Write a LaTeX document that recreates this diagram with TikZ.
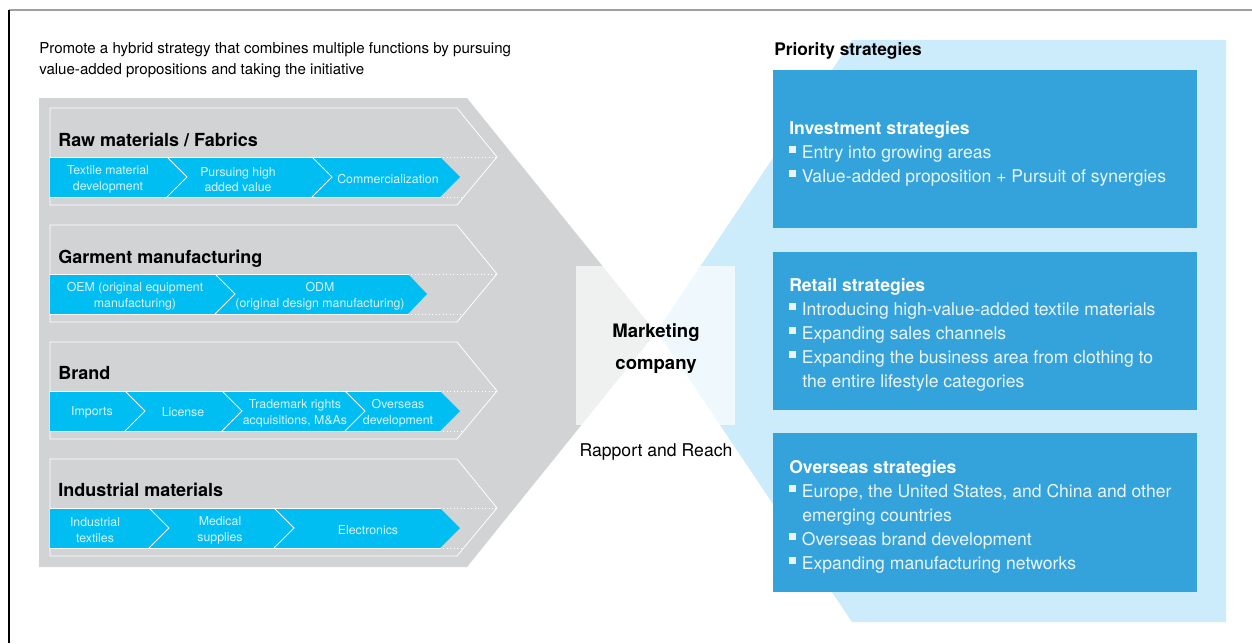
\documentclass[tikz,border=0pt]{standalone}
\usepackage{fontspec}
\setmainfont{TeX Gyre Heros}
\usepackage{tikz}
\usetikzlibrary{positioning}
\definecolor{chevgray}{RGB}{209,211,212}
\definecolor{segcyan}{RGB}{0,190,242}
\definecolor{paleblue}{RGB}{204,235,251}
\definecolor{boxblue}{RGB}{52,163,219}
\definecolor{segtext}{RGB}{214,242,252}
\definecolor{listtext}{RGB}{232,245,252}
\newcommand{\sqb}{\rule[4pt]{5.2pt}{5.2pt}\hspace{4.2pt}}

\begin{document}
\begin{tikzpicture}[x=0.75pt, y=-0.75pt]
\tikzstyle{rowline} = [white, line width=0.6pt]
\tikzstyle{dotline} = [white, line width=0.6pt, dotted]
\tikzstyle{segtxt} = [text=segtext, align=center, inner sep=0, font=\fontsize{9.25}{11.8}\selectfont]
\tikzstyle{rowtitle} = [anchor=base west, inner sep=0, font=\fontsize{13.5}{16}\selectfont\bfseries]
\tikzstyle{stratbox} = [anchor=north west, fill=boxblue, inner sep=0, minimum width=318pt]
\tikzstyle{boxhead} = [anchor=base west, inner sep=0, text=white, font=\fontsize{13.2}{16}\selectfont\bfseries]
\tikzstyle{listline} = [anchor=base west, inner sep=0, text=listtext, font=\fontsize{13.2}{16}\selectfont]

\useasboundingbox (0,0) rectangle (1252,643);
\draw[gray!75, line width=1.2pt] (9,10) -- (1252,10);
\draw[black, line width=0.9pt] (9,10) -- (9,643);

\fill[paleblue] (852,40) -- (1226,40) -- (1226,622) -- (852,622) -- (657,331) -- cycle;
\fill[chevgray] (39,98) -- (467,98) -- (656,332.5) -- (467,567) -- (39,567) -- cycle;

\node[anchor=north west, align=left, inner sep=0, font=\fontsize{11.3}{15.75}\selectfont] (intro) at (39,42)
  {Promote a hybrid strategy that combines multiple functions by pursuing\\value-added propositions and taking the initiative};

% Raw materials / Fabrics
\draw[rowline] (50,108) -- (457,108) -- (497,157) -- (457,205) -- (50,205) -- cycle;
\fill[segcyan] (50,157) -- (440,157) -- (460,177) -- (440,197) -- (50,197) -- cycle;
\draw[rowline] (50,157) -- (440,157);
\draw[rowline] (50,197) -- (440,197);
\draw[dotline] (440,157) -- (497,157);
\draw[dotline] (440,197) -- (463.7,197);
\draw[rowline] (167,157) -- (187,177) -- (167,197);
\draw[rowline] (312,157) -- (332,177) -- (312,197);
\node[rowtitle] (rawtitle) at (58,146) {Raw materials / Fabrics};
\node[segtxt] (textile) at (108,179.5) {Textile material\\development};
\node[segtxt] (highval) at (238,179.5) {Pursuing high\\added value};
\node[segtxt] (commerc) at (388,179) {Commercialization};

% Garment manufacturing
\draw[rowline] (50,225) -- (457,225) -- (497,274) -- (457,322) -- (50,322) -- cycle;
\fill[segcyan] (50,274) -- (408,274) -- (427,294) -- (408,314) -- (50,314) -- cycle;
\draw[rowline] (50,274) -- (408,274);
\draw[rowline] (50,314) -- (408,314);
\draw[dotline] (408,274) -- (497,274);
\draw[dotline] (408,314) -- (463.7,314);
\draw[rowline] (215,274) -- (235,294) -- (215,314);
\node[rowtitle] (garmtitle) at (58,263) {Garment manufacturing};
\node[segtxt] (oem) at (135,296) {OEM (original equipment\\manufacturing)};
\node[segtxt] (odm) at (320,296) {ODM\\(original design manufacturing)};

% Brand
\draw[rowline] (50,342) -- (457,342) -- (497,391) -- (457,439) -- (50,439) -- cycle;
\fill[segcyan] (50,391) -- (440,391) -- (460,411) -- (440,431) -- (50,431) -- cycle;
\draw[rowline] (50,391) -- (440,391);
\draw[rowline] (50,431) -- (440,431);
\draw[dotline] (440,391) -- (497,391);
\draw[dotline] (440,431) -- (463.7,431);
\draw[rowline] (125,391) -- (145,411) -- (125,431);
\draw[rowline] (222,391) -- (242,411) -- (222,431);
\draw[rowline] (345,391) -- (365,411) -- (345,431);
\node[rowtitle] (brandtitle) at (58,379) {Brand};
\node[segtxt] (imports) at (92,412) {Imports};
\node[segtxt] (license) at (183,412) {License};
\node[segtxt] (trademark) at (295,413) {Trademark rights\\acquisitions, M\&As};
\node[segtxt] (overseasdev) at (398,413) {Overseas\\development};

% Industrial materials
\draw[rowline] (50,459) -- (457,459) -- (497,508) -- (457,556) -- (50,556) -- cycle;
\fill[segcyan] (50,508) -- (440,508) -- (460,528) -- (440,548) -- (50,548) -- cycle;
\draw[rowline] (50,508) -- (440,508);
\draw[rowline] (50,548) -- (440,548);
\draw[dotline] (440,508) -- (497,508);
\draw[dotline] (440,548) -- (463.7,548);
\draw[rowline] (149,508) -- (169,528) -- (149,548);
\draw[rowline] (274,508) -- (294,528) -- (274,548);
\node[rowtitle] (indtitle) at (58,496) {Industrial materials};
\node[segtxt] (indtex) at (95,530) {Industrial\\textiles};
\node[segtxt] (medical) at (220,530) {Medical\\supplies};
\node[segtxt] (electro) at (368,530) {Electronics};

% centre
\fill[white, opacity=0.67] (576,266) rectangle (735,425);
\node[align=center, inner sep=0, font=\fontsize{13.9}{24}\selectfont\bfseries] (market) at (656,349) {Marketing\\company};
\node[anchor=base, inner sep=0, font=\fontsize{13.2}{16}\selectfont] (rapport) at (656,456) {Rapport and Reach};

% priority strategies
\node[anchor=base west, inner sep=0, font=\fontsize{13}{16}\selectfont\bfseries] (priority) at (774,55) {Priority strategies};
\node[stratbox, minimum height=118.5pt] (investbox) at (773,70) {};
\node[stratbox, minimum height=118.5pt] (retailbox) at (773,252) {};
\node[stratbox, minimum height=119.25pt] (overseasbox) at (773,433) {};

\node[boxhead] (investhead) at (789,134) {Investment strategies};
\node[listline] (invest1) at (789,158) {\sqb Entry into growing areas};
\node[listline] (invest2) at (789,182) {\sqb Value-added proposition + Pursuit of synergies};

\node[boxhead] (retailhead) at (789,291) {Retail strategies};
\node[listline] (retail1) at (789,315) {\sqb Introducing high-value-added textile materials};
\node[listline] (retail2) at (789,339) {\sqb Expanding sales channels};
\node[listline] (retail3) at (789,363) {\sqb Expanding the business area from clothing to};
\node[listline] (retail3b) at (802,387) {the entire lifestyle categories};

\node[boxhead] (overseashead) at (789,473) {Overseas strategies};
\node[listline] (overseas1) at (789,497) {\sqb Europe, the United States, and China and other};
\node[listline] (overseas1b) at (802,521) {emerging countries};
\node[listline] (overseas2) at (789,545) {\sqb Overseas brand development};
\node[listline] (overseas3) at (789,569) {\sqb Expanding manufacturing networks};
\end{tikzpicture}
\end{document}
